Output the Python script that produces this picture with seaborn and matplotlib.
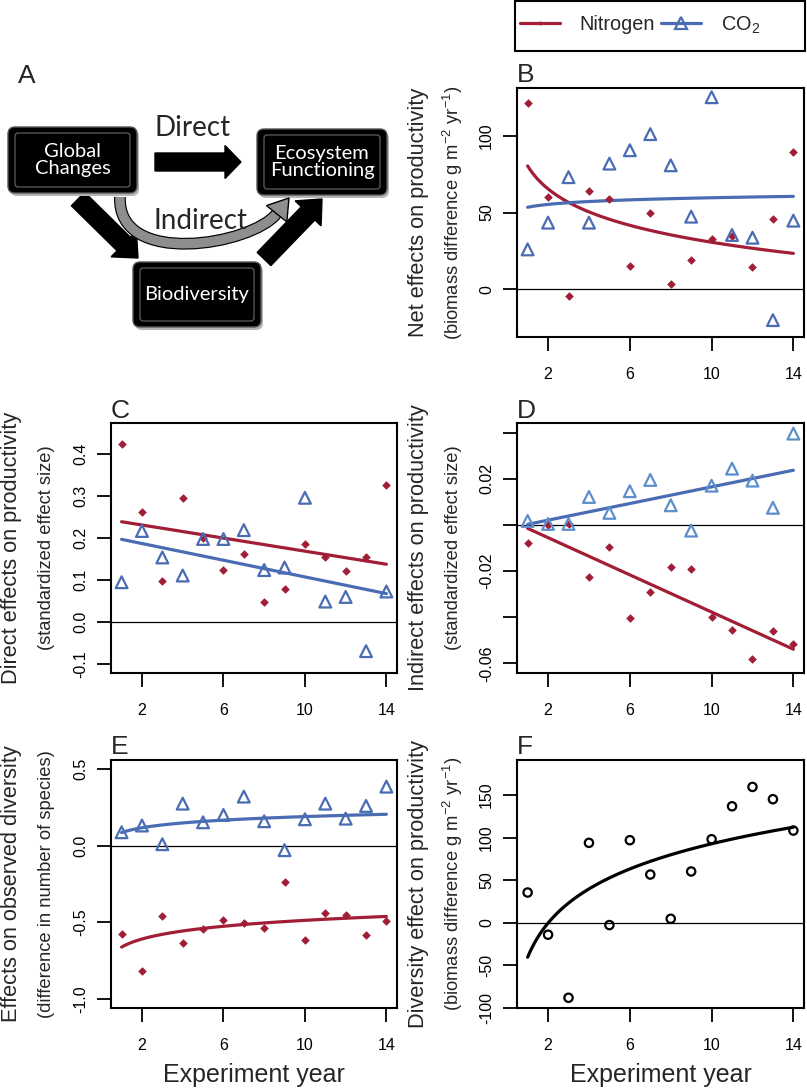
import numpy as np
import matplotlib
matplotlib.use("Agg")
import matplotlib.pyplot as plt
from matplotlib.patches import FancyBboxPatch, FancyArrow, PathPatch, Polygon, Rectangle
from matplotlib.path import Path
from matplotlib.lines import Line2D
import seaborn as sns

# ---- data ----
years = [1, 2, 3, 4, 5, 6, 7, 8, 9, 10, 11, 12, 13, 14]

# B: net effects on productivity (g m-2 yr-1)
net_nitrogen = [121.5, 60.3, -4.1, 64.2, 58.6, 15.4, 49.9, 3.3, 19.3, 33.0, 34.7, 14.5, 45.8, 89.4]
net_co2 = [26.0, 43.4, 73.0, 43.4, 81.8, 90.5, 101.0, 80.7, 47.3, 125.0, 35.4, 33.6, -20.0, 44.7]

# C: direct effects (standardized effect size)
direct_nitrogen = [0.424, 0.262, 0.097, 0.294, 0.199, 0.122, 0.161, 0.048, 0.077, 0.185, 0.153, 0.121, 0.155, 0.326]
direct_co2 = [0.094, 0.216, 0.153, 0.110, 0.197, 0.197, 0.218, 0.123, 0.129, 0.295, 0.048, 0.059, -0.070, 0.072]

# D: indirect effects (standardized effect size)
indirect_nitrogen = [-0.0079, -0.0001, 0.0004, -0.0226, -0.0096, -0.0403, -0.0291, -0.0180, -0.0189, -0.0400, -0.0455, -0.0580, -0.0460, -0.0516]
indirect_co2 = [0.0018, 0.0005, 0.0005, 0.0122, 0.0053, 0.0147, 0.0196, 0.0086, -0.0024, 0.0171, 0.0245, 0.0193, 0.0075, 0.0397]

# E: effects on observed diversity (number of species)
div_nitrogen = [-0.574, -0.820, -0.461, -0.633, -0.543, -0.485, -0.507, -0.539, -0.235, -0.613, -0.437, -0.454, -0.585, -0.493]
div_co2 = [0.089, 0.133, 0.011, 0.276, 0.154, 0.202, 0.322, 0.161, -0.028, 0.174, 0.276, 0.178, 0.261, 0.387]

# F: diversity effect on productivity (g m-2 yr-1)
div_effect = [35.5, -14.0, -88.0, 93.8, -2.7, 96.9, 56.6, 4.7, 60.2, 98.0, 136.7, 159.4, 145.0, 108.2]

# log-year fits shown in B and E (intercept, slope on ln(year))
net_nitrogen_fit = [80.3, -21.56]
net_co2_fit = [53.4, 2.69]
div_nitrogen_fit = [-0.661, 0.0758]
div_co2_fit = [0.087, 0.0453]

year_ticks = [2, 6, 10, 14]

W, H = 807, 1092
RED = "#a11e36"
BLUE = "#4a6cb3"
BLUE_LIGHT = "#5d8fcd"

sns.set_theme(style="ticks")
plt.rcParams["font.family"] = ["Liberation Sans", "DejaVu Sans"]
plt.rcParams["mathtext.fontset"] = "custom"
plt.rcParams["mathtext.rm"] = "Liberation Sans"
plt.rcParams["mathtext.it"] = "Liberation Sans:italic"
plt.rcParams["mathtext.default"] = "regular"

fig = plt.figure(figsize=(W / 100, H / 100), dpi=100)


def fx(x):
    return x / W


def fy(y):
    return 1 - y / H


def panel(x0, y0, x1, y1):
    return fig.add_axes([fx(x0), fy(y1), (x1 - x0) / W, (y1 - y0) / H])


def style_panel(ax, box, letter, ylim, yticks, ylabels, main, sub, left_col):
    x0, y0, x1, y1 = box
    ax.set_xlim(0.48, 14.52)
    ax.set_ylim(*ylim)
    ax.set_xticks(year_ticks)
    ax.set_yticks(yticks)
    ax.set_yticklabels(ylabels, rotation=90, va="center")
    ax.tick_params(axis="both", length=10, width=1.3, labelsize=11.5, colors="black")
    ax.tick_params(axis="x", pad=11.5)
    ax.tick_params(axis="y", pad=6.5)
    for s in ax.spines.values():
        s.set_linewidth(1.5)
        s.set_color("black")
        s.set_visible(True)
    ax.axhline(0, color="black", lw=0.9, zorder=1)
    ax.set_xlabel("")
    ax.set_ylabel("")
    fig.text(fx(x0), fy(y0 - 5.5), letter, fontsize=19, ha="left", va="baseline")
    xm = 12 if left_col else 418
    xs = 47 if left_col else 453
    yc = fy((y0 + y1) / 2)
    fig.text(fx(xm), yc, main, rotation=90, fontsize=15.7, ha="center", va="center")
    fig.text(fx(xs), yc, sub, rotation=90, fontsize=13.2, ha="center", va="center")


def nitrogen_points(ax, y):
    sns.scatterplot(x=years, y=y, marker="D", s=15, color=RED, edgecolor=RED,
                    linewidth=0.5, ax=ax, zorder=3)


def co2_points(ax, y, col=BLUE):
    sns.scatterplot(x=years, y=y, marker="^", s=72, color=col, facecolor="none",
                    edgecolor=col, linewidth=1.6, ax=ax, zorder=4)


def fit(ax, y, col, logx):
    sns.regplot(x=years, y=y, logx=logx, scatter=False, ci=None, color=col,
                line_kws={"lw": 2.3, "zorder": 2}, ax=ax)


def log_curve(ax, coef, col):
    xs = np.linspace(years[0], years[-1], 120)
    sns.lineplot(x=xs, y=coef[0] + coef[1] * np.log(xs), color=col, lw=2.3,
                 zorder=2, ax=ax)


# ---- panel A: conceptual diagram on a pixel canvas ----
cv = fig.add_axes([0, 0, 1, 1], zorder=-1)
cv.set_xlim(0, W)
cv.set_ylim(H, 0)
cv.axis("off")

diag_font = ["Lato", "DejaVu Sans"]


def node(x0, y0, x1, y1, label):
    w, h = x1 - x0, y1 - y0
    cv.add_patch(FancyBboxPatch((x0 + 2, y0 + 3), w, h, boxstyle="round,pad=0,rounding_size=7",
                                fc="#b5b5b5", ec="none"))
    cv.add_patch(FancyBboxPatch((x0, y0), w, h, boxstyle="round,pad=0,rounding_size=7",
                                fc="black", ec="#555555", lw=1.0))
    cv.add_patch(FancyBboxPatch((x0 + 7, y0 + 6), w - 14, h - 12, boxstyle="round,pad=0,rounding_size=3",
                                fc="black", ec="#6a6a6a", lw=0.8))
    cv.text((x0 + x1) / 2, (y0 + y1) / 2, label, color="white", fontsize=14.5,
            ha="center", va="center", family=diag_font, linespacing=1.0)


cv.text(18, 83, "A", fontsize=19, ha="left", va="baseline")

# straight arrows
cv.add_patch(FancyArrow(155, 162, 86, 0, width=18, head_width=33, head_length=16,
                        length_includes_head=True, fc="black", ec="black"))
cv.add_patch(FancyArrow(78, 199, 60, 59, width=19, head_width=36, head_length=20,
                        length_includes_head=True, fc="black", ec="black"))
cv.add_patch(FancyArrow(264, 259, 58, -60, width=19, head_width=36, head_length=20,
                        length_includes_head=True, fc="black", ec="black"))

# curved "indirect" arrow: outlined grey band plus a head
arc = Path([(120, 197), (117, 268), (252, 245), (276.6, 213.7)],
           [Path.MOVETO, Path.CURVE4, Path.CURVE4, Path.CURVE4])
cv.add_patch(PathPatch(arc, fill=False, ec="black", lw=8.5, capstyle="butt", zorder=2))
cv.add_patch(PathPatch(arc, fill=False, ec="#8e8e8e", lw=6.8, capstyle="butt", zorder=2.1))
cv.add_patch(Polygon([(289, 198), (286.8, 221.8), (266.4, 205.6)], closed=True,
                     fc="#8e8e8e", ec="black", lw=1.0, zorder=2.2))

node(8, 127, 137, 193, "Global\nChanges")
node(257, 129, 387, 195, "Ecosystem\nFunctioning")
node(133, 262, 261, 327, "Biodiversity")

cv.text(193, 128, "Direct", fontsize=20, ha="center", va="center", family=diag_font, zorder=5)
cv.text(200, 221, "Indirect", fontsize=20, ha="center", va="center", family=diag_font, zorder=5)

# ---- panel B ----
boxB = (517, 88, 804, 337)
axB = panel(*boxB)
nitrogen_points(axB, net_nitrogen)
co2_points(axB, net_co2)
log_curve(axB, net_nitrogen_fit, RED)
log_curve(axB, net_co2_fit, BLUE)
style_panel(axB, boxB, "B", (-31, 131), [0, 50, 100], ["0", "50", "100"],
            "Net effects on productivity",
            "(biomass difference g m$^{-2}$ yr$^{-1}$)", False)

# ---- panel C ----
boxC = (111, 423, 397, 673)
axC = panel(*boxC)
nitrogen_points(axC, direct_nitrogen)
co2_points(axC, direct_co2)
fit(axC, direct_nitrogen, RED, False)
fit(axC, direct_co2, BLUE, False)
style_panel(axC, boxC, "C", (-0.122, 0.473), [-0.1, 0.0, 0.1, 0.2, 0.3, 0.4],
            ["-0.1", "0.0", "0.1", "0.2", "0.3", "0.4"],
            "Direct effects on productivity", "(standardized effect size)", True)

# ---- panel D ----
boxD = (517, 423, 804, 673)
axD = panel(*boxD)
nitrogen_points(axD, indirect_nitrogen)
co2_points(axD, indirect_co2, BLUE_LIGHT)
fit(axD, indirect_nitrogen, RED, False)
fit(axD, indirect_co2, BLUE, False)
style_panel(axD, boxD, "D", (-0.0642, 0.0443), [-0.06, -0.04, -0.02, 0.0, 0.02, 0.04],
            ["-0.06", "", "-0.02", "", "0.02", ""],
            "Indirect effects on productivity", "(standardized effect size)", False)

# ---- panel E ----
boxE = (111, 760, 397, 1008)
axE = panel(*boxE)
nitrogen_points(axE, div_nitrogen)
co2_points(axE, div_co2)
log_curve(axE, div_nitrogen_fit, RED)
log_curve(axE, div_co2_fit, BLUE)
style_panel(axE, boxE, "E", (-1.059, 0.561), [-1.0, -0.5, 0.0, 0.5],
            ["-1.0", "-0.5", "0.0", "0.5"],
            "Effects on observed diversity", "(difference in number of species)", True)

# ---- panel F ----
boxF = (517, 760, 804, 1008)
axF = panel(*boxF)
sns.scatterplot(x=years, y=div_effect, marker="o", s=36, color="black", facecolor="none",
                edgecolor="black", linewidth=1.6, ax=axF, zorder=3)
fit(axF, div_effect, "black", True)
style_panel(axF, boxF, "F", (-100, 191), [-100, -50, 0, 50, 100, 150],
            ["-100", "-50", "0", "50", "100", "150"],
            "Diversity effect on productivity",
            "(biomass difference g m$^{-2}$ yr$^{-1}$)", False)

for box in (boxE, boxF):
    fig.text(fx((box[0] + box[2]) / 2), fy(1082), "Experiment year", fontsize=18,
             ha="center", va="baseline")

# ---- legend ----
fig.add_artist(Rectangle((fx(515), fy(51)), 290 / W, 50 / H, transform=fig.transFigure,
                         fill=False, ec="black", lw=1.5))
handles = [
    Line2D([], [], color=RED, lw=2.3, marker="D", ms=1.5),
    Line2D([], [], color=BLUE, lw=2.3, marker="^", ms=8.5, mfc="none", mew=1.6),
]
fig.legend(handles, ["Nitrogen", "CO$_2$"], loc="center left", bbox_to_anchor=(fx(516), fy(25)),
           ncol=2, frameon=False, fontsize=14.3, handlelength=2.0, handletextpad=1.0,
           columnspacing=0.3, borderaxespad=0, borderpad=0.2)

fig.savefig("out.png", dpi=100)
